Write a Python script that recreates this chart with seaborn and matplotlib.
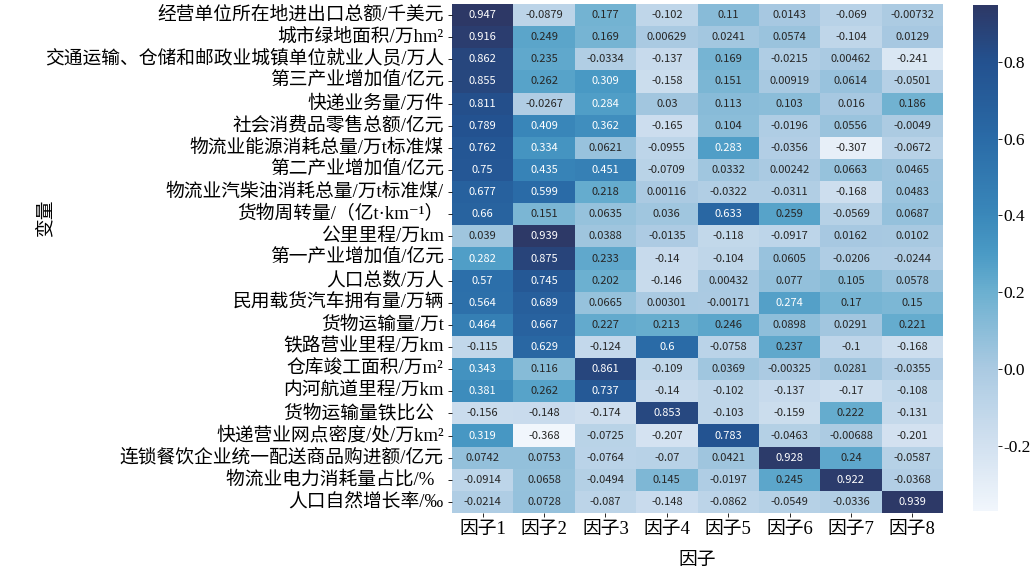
import numpy as np
import pandas as pd
import seaborn as sns
import matplotlib.pyplot as plt
from matplotlib.colors import LinearSegmentedColormap

# row labels (variables) and column labels (factors)
variables = ['经营单位所在地进出口总额/千美元', '城市绿地面积/万hm²',
             '交通运输、仓储和邮政业城镇单位就业人员/万人', '第三产业增加值/亿元',
             '快递业务量/万件', '社会消费品零售总额/亿元', '物流业能源消耗总量/万t标准煤',
             '第二产业增加值/亿元', '物流业汽柴油消耗总量/万t标准煤/',
             '货物周转量/（亿t·km⁻¹）', '公里里程/万km', '第一产业增加值/亿元',
             '人口总数/万人', '民用载货汽车拥有量/万辆', '货物运输量/万t',
             '铁路营业里程/万km', '仓库竣工面积/万m²', '内河航道里程/万km',
             '货物运输量铁比公  ', '快递营业网点密度/处/万km²',
             '连锁餐饮企业统一配送商品购进额/亿元', '物流业电力消耗量占比/%  ',
             '人口自然增长率/‰']
factors = ['因子1', '因子2', '因子3', '因子4', '因子5', '因子6', '因子7', '因子8']

f1 = [0.947, 0.916, 0.862, 0.855, 0.811, 0.789, 0.762, 0.75, 0.677, 0.66, 0.039, 0.282,
      0.57, 0.564, 0.464, -0.115, 0.343, 0.381, -0.156, 0.319, 0.0742, -0.0914, -0.0214]
f2 = [-0.0879, 0.249, 0.235, 0.262, -0.0267, 0.409, 0.334, 0.435, 0.599, 0.151, 0.939, 0.875,
      0.745, 0.689, 0.667, 0.629, 0.116, 0.262, -0.148, -0.368, 0.0753, 0.0658, 0.0728]
f3 = [0.177, 0.169, -0.0334, 0.309, 0.284, 0.362, 0.0621, 0.451, 0.218, 0.0635, 0.0388, 0.233,
      0.202, 0.0665, 0.227, -0.124, 0.861, 0.737, -0.174, -0.0725, -0.0764, -0.0494, -0.087]
f4 = [-0.102, 0.00629, -0.137, -0.158, 0.03, -0.165, -0.0955, -0.0709, 0.00116, 0.036, -0.0135,
      -0.14, -0.146, 0.00301, 0.213, 0.6, -0.109, -0.14, 0.853, -0.207, -0.07, 0.145, -0.148]
f5 = [0.11, 0.0241, 0.169, 0.151, 0.113, 0.104, 0.283, 0.0332, -0.0322, 0.633, -0.118, -0.104,
      0.00432, -0.00171, 0.246, -0.0758, 0.0369, -0.102, -0.103, 0.783, 0.0421, -0.0197, -0.0862]
f6 = [0.0143, 0.0574, -0.0215, 0.00919, 0.103, -0.0196, -0.0356, 0.00242, -0.0311, 0.259,
      -0.0917, 0.0605, 0.077, 0.274, 0.0898, 0.237, -0.00325, -0.137, -0.159, -0.0463, 0.928,
      0.245, -0.0549]
f7 = [-0.069, -0.104, 0.00462, 0.0614, 0.016, 0.0556, -0.307, 0.0663, -0.168, -0.0569, 0.0162,
      -0.0206, 0.105, 0.17, 0.0291, -0.1, 0.0281, -0.17, 0.222, -0.00688, 0.24, 0.922, -0.0336]
f8 = [-0.00732, 0.0129, -0.241, -0.0501, 0.186, -0.0049, -0.0672, 0.0465, 0.0483, 0.0687, 0.0102,
      -0.0244, 0.0578, 0.15, 0.221, -0.168, -0.0355, -0.108, -0.131, -0.201, -0.0587, -0.0368, 0.939]

df = pd.DataFrame(np.column_stack([f1, f2, f3, f4, f5, f6, f7, f8]), index=variables, columns=factors)

plt.rcParams['axes.unicode_minus'] = False
serif = ['Liberation Serif', 'Noto Sans CJK SC', 'DejaVu Sans']
plt.rcParams['font.family'] = serif

# washed-out blues, as in the picture
vmin, vmax = df.values.min(), df.values.max()
stops = [-0.368, -0.2, 0.0, 0.2, 0.3, 0.4, 0.6, 0.8, 0.947]
cols = ['#f1f6fc', '#d2e1f0', '#abcae2', '#6cb0d0', '#4a9ac5', '#3a88ba', '#2a6ba7', '#23518f', '#2d3866']
cmap = LinearSegmentedColormap.from_list('bl', [((s - vmin) / (vmax - vmin), c) for s, c in zip(stops, cols)])

fig = plt.figure(figsize=(10.3, 5.73), dpi=100)
ax = fig.add_axes([452 / 1030, (573 - 513) / 573, 491 / 1030, 509 / 573])
cax = fig.add_axes([973 / 1030, (573 - 511) / 573, 25 / 1030, 506 / 573])

sns.heatmap(df, ax=ax, cbar_ax=cax, cmap=cmap, annot=True, fmt='.3g',
            annot_kws={'fontsize': 8, 'family': ['Noto Sans CJK SC', 'DejaVu Sans']})

# text colour: white on the darker cells
for t in ax.texts:
    t.set_color('white' if float(t.get_text()) > 0.265 else '#262626')

ax.set_xlabel('因子', fontsize=13.5, labelpad=10)
ax.set_ylabel('变量', fontsize=13.5)
ax.yaxis.set_label_coords(-0.81, 0.58)
ax.tick_params(axis='both', length=3, width=0.6, labelsize=13.5, pad=3)
plt.setp(ax.get_yticklabels(), rotation=0)
plt.setp(ax.get_xticklabels(), rotation=0)

cbar = ax.collections[0].colorbar
cbar.outline.set_visible(False)
cbar.ax.tick_params(labelsize=12.5, length=3, width=0.6, pad=1)

plt.savefig('out.png', dpi=100)
